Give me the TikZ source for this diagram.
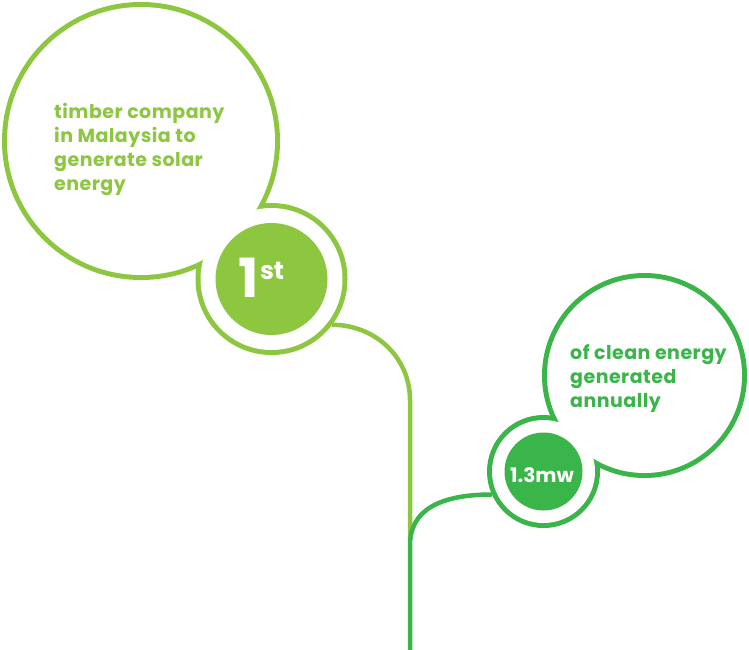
\documentclass[tikz,border=0pt]{standalone}
\usepackage{fontspec}
\setmainfont{Poppins}
\newfontfamily\labelfont{Poppins}[LetterSpace=2.5]
\definecolor{lgreen}{HTML}{8DC63F}
\definecolor{dgreen}{HTML}{39B54A}
\tikzset{
  band/.style={circle, inner sep=0pt, line width=10pt},
  disk/.style={circle, inner sep=0pt, draw=none},
  conn/.style={line width=4.5pt},
  label/.style={inner sep=0pt, align=left, font=\labelfont\fontsize{19}{23.7}\selectfont\bfseries},
}
\begin{document}
\begin{tikzpicture}[x=1pt,y=-1pt]
\useasboundingbox (0,0) rectangle (749,649);
% group 1 outline (union of two circles)
\node[band, draw=lgreen, minimum size=268pt] (big1) at (141,141) {};
\node[band, draw=lgreen, minimum size=142pt] (ring1) at (271.5,279) {};
\fill[white] (big1.center) circle[radius=134pt];
\fill[white] (ring1.center) circle[radius=71pt];
\node[disk, fill=lgreen, minimum size=112pt] (disk1) at (271.5,279) {};
% group 2 outline
\node[band, draw=dgreen, minimum size=195pt] (big2) at (644.5,375.5) {};
\node[band, draw=dgreen, minimum size=103pt] (ring2) at (543.5,471.5) {};
\fill[white] (big2.center) circle[radius=97.5pt];
\fill[white] (ring2.center) circle[radius=51.5pt];
\node[disk, fill=dgreen, minimum size=78pt] (disk2) at (543.5,471.5) {};
% connectors
\coordinate (bend1) at (410,400);
\coordinate (end1) at (410,540);
\coordinate (bend2) at (410,545);
\coordinate (end2) at (410,652);
\draw[conn, lgreen] (ring1.-37) .. controls (376,325) and (410,358) .. (bend1) -- (end1);
\draw[conn, dgreen] (ring2.204) .. controls (440,494.5) and (410,510) .. (bend2) -- (end2);
% texts
\node[label, text=lgreen, anchor=north west] (t1) at (54,103.5) {timber company\\in Malaysia to\\generate solar\\energy};
\node[label, text=dgreen, anchor=north west] (t2) at (570,344.5) {of clean energy\\generated\\annually};
\node[inner sep=0pt, text=white, anchor=base west] (first) at (238,297) {\fontsize{54}{54}\selectfont\bfseries 1\kern1.5pt\raisebox{18pt}{\fontsize{25}{25}\selectfont st}};
\node[inner sep=0pt, text=white, anchor=base, font=\fontsize{20}{20}\selectfont\bfseries] (mw) at (542,482) {1.3mw};
\end{tikzpicture}
\end{document}
